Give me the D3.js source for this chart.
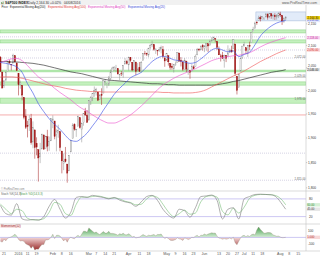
<!DOCTYPE html>
<html lang="en">
<head>
<meta charset="utf-8">
<title>S&amp;P500 Index - Daily</title>
<script src="https://cdn.jsdelivr.net/npm/d3@7/dist/d3.min.js"></script>
<style>
  html, body { margin: 0; padding: 0; background: #ffffff; }
  #chart svg { display: block; font-family: "Liberation Sans", Arial, sans-serif; }
</style>
</head>
<body>
<div id="chart"></div>
<script>
// 1. Data
const dates = [
  '2015-12-17','2015-12-18','2015-12-21','2015-12-22','2015-12-23','2015-12-24','2015-12-28','2015-12-29','2015-12-30','2015-12-31',
  '2016-01-04','2016-01-05','2016-01-06','2016-01-07','2016-01-08','2016-01-11','2016-01-12','2016-01-13','2016-01-14','2016-01-15','2016-01-19','2016-01-20','2016-01-21','2016-01-22','2016-01-25','2016-01-26','2016-01-27','2016-01-28','2016-01-29',
  '2016-02-01','2016-02-02','2016-02-03','2016-02-04','2016-02-05','2016-02-08','2016-02-09','2016-02-10','2016-02-11','2016-02-12','2016-02-16','2016-02-17','2016-02-18','2016-02-19','2016-02-22','2016-02-23','2016-02-24','2016-02-25','2016-02-26','2016-02-29',
  '2016-03-01','2016-03-02','2016-03-03','2016-03-04','2016-03-07','2016-03-08','2016-03-09','2016-03-10','2016-03-11','2016-03-14','2016-03-15','2016-03-16','2016-03-17','2016-03-18','2016-03-21','2016-03-22','2016-03-23','2016-03-24','2016-03-28','2016-03-29','2016-03-30','2016-03-31',
  '2016-04-01','2016-04-04','2016-04-05','2016-04-06','2016-04-07','2016-04-08','2016-04-11','2016-04-12','2016-04-13','2016-04-14','2016-04-15','2016-04-18','2016-04-19','2016-04-20','2016-04-21','2016-04-22','2016-04-25','2016-04-26','2016-04-27','2016-04-28','2016-04-29',
  '2016-05-02','2016-05-03','2016-05-04','2016-05-05','2016-05-06','2016-05-09','2016-05-10','2016-05-11','2016-05-12','2016-05-13','2016-05-16','2016-05-17','2016-05-18','2016-05-19','2016-05-20','2016-05-23','2016-05-24','2016-05-25','2016-05-26','2016-05-27','2016-05-31',
  '2016-06-01','2016-06-02','2016-06-03','2016-06-06','2016-06-07','2016-06-08','2016-06-09','2016-06-10','2016-06-13','2016-06-14','2016-06-15','2016-06-16','2016-06-17','2016-06-20','2016-06-21','2016-06-22','2016-06-23','2016-06-24','2016-06-27','2016-06-28','2016-06-29','2016-06-30',
  '2016-07-01','2016-07-05','2016-07-06','2016-07-07','2016-07-08','2016-07-11','2016-07-12','2016-07-13','2016-07-14','2016-07-15','2016-07-18','2016-07-19','2016-07-20','2016-07-21','2016-07-22','2016-07-25','2016-07-26','2016-07-27','2016-07-28','2016-07-29',
  '2016-08-01','2016-08-02','2016-08-03','2016-08-04'
];

const open = [
  2073.8,2040.8,2010.3,2023.2,2042.2,2063.5,2057.8,2060.5,2077.3,2060.6,
  2038.2,2013.8,2011.7,1985.3,1945.9,1926.1,1927.8,1940.3,1891.7,1916.7,1888.7,1876.2,1861.5,1877.4,1906.3,1878.8,1902.5,1885.2,1894.0,
  1936.9,1935.3,1907.1,1911.7,1913.1,1873.3,1848.5,1857.1,1847.0,1833.4,1871.4,1898.8,1927.6,1916.7,1924.4,1942.4,1917.6,1931.9,1955.0,1947.1,
  1937.1,1976.6,1985.6,1994.0,1996.1,1996.9,1981.4,1991.0,1994.7,2019.3,2015.3,2014.2,2026.9,2041.2,2047.9,2048.6,2048.6,2032.5,2037.9,2035.8,2058.3,2063.8,
  2056.6,2073.2,2062.5,2045.6,2063.0,2045.5,2050.2,2043.7,2065.9,2082.9,2083.1,2078.8,2096.1,2101.5,2102.1,2091.5,2089.4,2089.8,2092.3,2090.9,2071.8,
  2067.2,2077.2,2060.3,2053.0,2047.8,2057.6,2062.6,2083.3,2067.2,2062.5,2046.5,2065.0,2044.4,2044.2,2041.9,2052.2,2052.6,2078.9,2091.4,2090.1,2100.1,
  2093.9,2097.7,2104.1,2100.8,2110.2,2112.7,2115.7,2109.6,2091.8,2076.7,2077.6,2066.4,2078.2,2075.6,2085.2,2089.8,2092.8,2103.8,2031.5,2006.7,2042.7,2073.2,
  2099.3,2095.1,2084.4,2100.4,2107.0,2131.7,2139.5,2153.8,2157.9,2165.1,2162.0,2163.8,2166.1,2172.9,2166.5,2173.7,2169.0,2169.8,2166.1,2168.8,
  2173.2,2169.9,2156.8,2163.5
];
const high = [
  2076.4,2040.8,2022.9,2042.7,2064.7,2067.4,2057.8,2081.6,2077.3,2062.5,
  2038.2,2021.9,2011.7,1985.3,1960.4,1935.7,1947.4,1950.3,1934.5,1916.7,1901.4,1876.2,1889.9,1908.9,1906.3,1904.7,1916.9,1902.9,1940.2,
  1947.2,1935.3,1918.0,1927.4,1913.1,1873.3,1868.3,1881.6,1847.0,1864.8,1895.8,1930.7,1930.5,1918.8,1946.7,1942.4,1932.1,1951.8,1963.0,1958.3,
  1978.4,1986.5,1993.7,2009.1,2006.1,1996.9,1992.7,2005.1,2022.4,2024.6,2015.9,2032.0,2046.2,2052.4,2053.9,2056.6,2048.6,2036.0,2042.7,2055.9,2072.2,2067.9,
  2075.1,2074.0,2062.5,2067.3,2063.0,2060.6,2062.9,2065.1,2083.2,2087.8,2083.2,2094.7,2104.1,2111.1,2103.8,2094.3,2089.4,2096.9,2099.9,2099.1,2073.9,
  2083.4,2077.2,2060.3,2060.2,2057.7,2064.2,2084.9,2083.5,2074.0,2066.8,2071.9,2065.7,2060.6,2044.2,2058.4,2055.6,2079.7,2094.7,2094.3,2099.3,2103.5,
  2101.0,2105.3,2104.1,2113.4,2119.2,2120.6,2117.6,2109.6,2098.1,2081.3,2085.7,2079.6,2078.2,2100.7,2093.7,2099.7,2113.3,2103.8,2031.5,2036.1,2073.1,2098.9,
  2108.7,2095.1,2100.7,2109.1,2131.7,2143.2,2155.4,2156.5,2169.0,2169.1,2168.4,2164.6,2175.6,2174.6,2175.1,2173.7,2173.5,2175.0,2172.9,2177.1,
  2178.3,2170.2,2163.8,2168.2
];
const low = [
  2041.7,2005.3,2005.9,2020.5,2042.2,2058.7,2044.2,2060.5,2061.9,2043.6,
  1989.7,2004.2,1979.1,1938.8,1918.5,1901.1,1914.4,1886.3,1878.9,1857.8,1864.6,1812.3,1848.9,1877.4,1875.9,1878.8,1872.7,1873.7,1894.0,
  1920.3,1897.3,1872.6,1900.5,1872.7,1828.5,1834.9,1850.3,1810.1,1833.4,1871.4,1898.8,1915.1,1902.2,1924.4,1919.4,1891.0,1925.4,1945.8,1931.8,
  1937.1,1969.0,1977.4,1986.8,1989.4,1977.4,1979.8,1969.3,1994.7,2012.1,2005.2,2010.0,2022.2,2041.2,2043.1,2040.6,2034.9,2022.5,2032.0,2028.3,2058.3,2057.5,
  2044.0,2062.6,2042.6,2043.1,2033.8,2041.7,2041.9,2039.7,2065.9,2078.1,2076.3,2073.7,2091.7,2096.3,2088.5,2081.2,2077.5,2085.8,2082.3,2071.6,2052.3,
  2066.1,2054.9,2045.6,2045.8,2039.5,2054.3,2062.6,2064.5,2053.1,2043.1,2046.5,2040.8,2034.5,2025.9,2041.9,2047.3,2052.6,2078.9,2087.1,2090.1,2088.7,
  2085.1,2088.6,2085.4,2100.8,2110.2,2112.7,2107.7,2090.0,2078.5,2064.1,2069.8,2050.4,2062.8,2075.6,2083.0,2084.4,2092.8,2032.6,1991.7,2006.7,2042.7,2070.0,
  2097.9,2080.9,2074.0,2089.4,2107.0,2131.7,2139.5,2148.0,2157.9,2155.8,2159.6,2159.0,2166.1,2159.8,2163.2,2161.9,2160.2,2159.1,2159.7,2163.5,
  2166.2,2147.6,2152.6,2159.1
];
const close = [
  2041.9,2005.6,2021.2,2039.0,2064.3,2061.0,2056.5,2078.4,2063.4,2043.9,
  2012.7,2016.7,1990.3,1943.1,1922.0,1923.7,1938.7,1890.3,1921.8,1880.3,1881.3,1859.3,1869.0,1906.9,1877.1,1903.6,1883.0,1893.4,1940.2,
  1939.4,1903.0,1912.5,1915.5,1880.1,1853.4,1852.2,1851.9,1829.1,1864.8,1895.6,1926.8,1917.8,1917.8,1945.5,1921.3,1929.8,1951.7,1948.1,1932.2,
  1978.4,1986.5,1993.4,2000.0,2001.8,1979.3,1989.3,1989.6,2022.2,2019.6,2015.9,2027.2,2040.6,2049.6,2051.6,2049.8,2036.7,2035.9,2037.1,2055.0,2064.0,2059.7,
  2072.8,2066.1,2045.2,2066.7,2041.9,2047.6,2042.0,2061.7,2082.4,2082.8,2080.7,2094.3,2100.8,2102.4,2091.5,2091.6,2087.8,2091.7,2095.2,2075.8,2065.3,
  2081.4,2063.4,2051.1,2050.6,2057.1,2058.7,2084.4,2064.5,2064.1,2046.6,2066.7,2047.2,2047.6,2040.0,2052.3,2048.0,2076.1,2090.5,2090.1,2099.1,2097.0,
  2099.3,2105.3,2099.1,2109.4,2112.1,2119.1,2115.5,2096.1,2079.1,2075.3,2071.5,2078.0,2071.2,2083.3,2088.9,2085.5,2113.3,2037.4,2000.5,2036.1,2070.8,2098.9,
  2103.0,2088.6,2099.7,2097.9,2129.9,2137.2,2152.1,2152.4,2163.8,2161.7,2166.9,2163.8,2173.0,2165.2,2175.0,2168.5,2169.2,2166.6,2170.1,2173.6,
  2170.8,2157.0,2163.8,2164.3
];

// Momentum(12), one value per bar
const momentum = [
  -61,-74,-28,-53,-13,-3,9,26,51,22,
  -31,-56,-52,-62,-99,-115,-126,-171,-135,-198,
  -182,-185,-144,-110,-113,-40,-39,-30,2,49,
  -19,32,34,21,-16,-55,-25,-75,-18,2,
  -13,-22,15,33,6,50,98,96,80,149,
  122,98,73,84,62,44,68,92,68,68,
  95,62,63,58,50,35,57,48,65,42,
  40,57,39,5,17,-10,-2,5,26,45,
  28,17,35,28,36,46,25,46,44,53,
  14,-17,-1,-17,-43,-50,-45,-33,-7,-23,
  -28,-49,-9,-18,-34,-23,1,-3,19,32,
  6,35,33,53,39,52,62,72,67,68,
  20,-11,-15,-28,-19,-28,-22,-10,-24,1,
  -82,-115,-60,-8,24,32,11,29,15,41,
  52,39,115,163,126,96,65,70,77,75,
  71,39,29,18,21,7,-5,-3,1
];

// moving averages and stochastic, read every third bar
const sampleDays = [0,3,6,9,12,15,18,21,24,27,30,33,36,39,42,45,48,51,54,57,60,63,66,69,72,75,78,81,84,87,90,93,96,99,102,105,108,111,114,117,120,123,126,129,132,135,138,141,144,147,150,153,156,158];
const ema200 = [2064,2064,2063,2063,2062,2061,2060,2058,2056,2053,2050,2047,2044,2041,2039,2037,2034,2031,2028,2025,2023,2022,2021,2020,2019,2018,2017,2016,2015,2015,2014,2013,2013,2012,2012,2012,2012,2012,2012,2012,2013,2015,2017,2020,2022,2025,2028,2031,2034,2037,2040,2042,2044,2046];
const ema100 = [2030,2030,2030,2029,2027,2024,2021,2018,2015,2012,2010,2008,2005,2003,2001,2000,1999,1998,1998,1997,1997,1997,1997,1997,1997,1997,1997,1997,1997,1997,1996,1996,1995,1995,1995,1995,1996,1998,2002,2008,2014,2020,2026,2032,2037,2043,2050,2057,2064,2070,2076,2082,2087,2090];
const ema50 = [2062,2066,2070,2071,2066,2055,2042,2030,2022,2015,2005,1996,1988,1980,1970,1962,1956,1948,1941,1935,1931,1931,1935,1941,1948,1957,1967,1978,1990,2002,2012,2020,2027,2033,2038,2043,2048,2054,2060,2066,2070,2073,2075,2077,2078,2081,2084,2090,2097,2103,2108,2112,2116,2118];
const ema20 = [2062,2060,2057,2052,2040,2015,1995,1972,1955,1940,1928,1918,1905,1895,1893,1900,1910,1925,1940,1958,1975,1992,2005,2016,2028,2034,2040,2052,2064,2072,2076,2073,2068,2066,2063,2060,2062,2070,2080,2090,2094,2090,2086,2088,2075,2080,2085,2102,2122,2135,2145,2152,2156,2158];
const stochK = [58,30,25,64,12,8,10,8,20,55,78,45,15,35,85,88,85,92,88,85,80,85,76,70,66,55,70,88,92,75,45,25,15,45,40,18,50,88,90,93,75,12,45,50,12,80,88,95,96,95,94,85,62,45];
const stochD = [62,45,30,45,40,14,9,9,13,35,68,62,30,24,62,86,86,88,90,86,82,83,80,72,68,60,62,80,90,85,62,36,20,30,42,28,32,70,88,91,86,38,26,48,32,52,82,92,95,95,94,90,76,60];

// drawn levels
const supportZones = [[2129, 2136], [2106, 2113], [2041, 2045], [2012, 2019], [1973, 1984]];
const dottedLevels = [2120, 2090, 2072, 1869, 1815];
const solidLevels = [2029];
const redLevels = [1948];
const labelledLevels = [2072, 2029, 1978, 1815];
const rangeBoxStart = '2016-07-13';
const rangeBoxValues = [2157, 2178];

// tick labels
const priceTicks = [1800, 1850, 1900, 1950, 2000, 2050, 2100, 2150];
const stochTicks = [80, 20];
const momTicks = [100, -100];
const xTickDates = ['2015-12-21','2016-01-04','2016-01-11','2016-01-19','2016-02-01','2016-02-08','2016-02-16','2016-03-01','2016-03-07','2016-03-14','2016-03-21','2016-04-01','2016-04-11','2016-04-18','2016-05-02','2016-05-09','2016-05-16','2016-05-23','2016-06-01','2016-06-13','2016-06-20','2016-06-27','2016-07-01','2016-07-11','2016-07-18','2016-08-01','2016-08-08','2016-08-15'];
const xTickLabels = ['21','2016','11','19','Feb','8','16','Mar','7','14','21','Apr','11','18','May','9','16','23','Jun','13','20','27','Jul','11','18','Aug','8','15'];

// 2. Layout
const width = 320, height = 256;
const plotRight = 306;
const mainTop = 10, mainBottom = 191, stochBottom = 224, momBottom = 251;
const fmt = d3.format(',.2f');

const svg = d3.select('#chart').append('svg')
  .attr('width', width).attr('height', height)
  .attr('viewBox', `0 0 ${width} ${height}`);

svg.append('rect').attr('width', width).attr('height', height).attr('fill', '#ffffff');

// 3. Scales (bar index on x, log price on the main panel)
const x = d3.scaleLinear().domain([-0.25, 169.25]).range([0, plotRight]);
const y = d3.scaleLog().domain([1793.9, 2182.6]).range([mainBottom, mainTop]);
const yStoch = d3.scaleLinear().domain([0, 100]).range([222.5, 193]);
const yMom = d3.scaleLinear().domain([-215, 200]).range([251.1, 224.66]);

// bar index of a date, counting weekdays past the last bar for future dates
function dayIndex(s) {
  const i = dates.indexOf(s);
  if (i >= 0) return i;
  const last = new Date(dates[dates.length - 1] + 'T00:00:00Z');
  const target = new Date(s + 'T00:00:00Z');
  const extra = d3.utcDay.range(d3.utcDay.offset(last, 1), d3.utcDay.offset(target, 1))
    .filter(d => d.getUTCDay() !== 0 && d.getUTCDay() !== 6);
  return dates.length - 1 + extra.length;
}

const defs = svg.append('defs');
function addClip(id, y0, y1) {
  defs.append('clipPath').attr('id', id)
    .append('rect').attr('x', 0).attr('y', y0).attr('width', plotRight).attr('height', y1 - y0);
}
addClip('clip-main', 8.5, mainBottom);
addClip('clip-stoch', mainBottom, stochBottom);
addClip('clip-mom-pos', mainBottom, yMom(0));
addClip('clip-mom-neg', yMom(0), momBottom);

// 4. Header
svg.append('rect').attr('x', 0).attr('y', 0).attr('width', width).attr('height', 5)
  .attr('fill', '#f1f1f1');
[['#3c9a3c', 2.2], ['#c03030', 1.4], ['#3c9a3c', 2.8]].forEach((b, k) => {
  svg.append('rect').attr('x', 1 + k * 0.9).attr('y', 4.2 - b[1]).attr('width', 0.6).attr('height', b[1]).attr('fill', b[0]);
});
const last = close.length - 1;
svg.append('text').attr('x', 5).attr('y', 3.7).attr('font-size', 3.3).attr('font-weight', 'bold')
  .attr('fill', '#222').text('S&P500 INDEX');
svg.append('text').attr('x', 28).attr('y', 3.7).attr('font-size', 3.3).attr('fill', '#333')
  .text(`Daily  ${fmt(close[last])}  ${d3.format('+.2%')((close[last] - close[last - 1]) / close[last - 1])}`);
svg.append('text').attr('x', 64).attr('y', 3.7).attr('font-size', 3.3).attr('fill', '#333').text('04/08/2016');
svg.append('text').attr('x', 317).attr('y', 4).attr('font-size', 3.4).attr('text-anchor', 'end')
  .attr('fill', '#555').text('www.ProRealTime.com');

// legend row, each part squeezed into its own slot
const legend = [
  ['Price · Exponential Moving Avg(200)', '#222222', 1.5, 44],
  ['Exponential Moving Avg(100)', '#e03a3a', 48, 38],
  ['Exponential Moving Avg(50)', '#e040c0', 88, 37.5],
  ['Exponential Moving Avg(20)', '#3a4ad8', 128, 37]
];
legend.forEach(l => {
  svg.append('text').attr('x', l[2]).attr('y', 7.9).attr('font-size', 3.0).attr('fill', l[1])
    .attr('textLength', l[3]).attr('lengthAdjust', 'spacingAndGlyphs').text(l[0]);
});

// 5. Main panel: zones, levels, box
const main = svg.append('g').attr('clip-path', 'url(#clip-main)');

main.selectAll('rect.zone').data(supportZones).join('rect')
  .attr('class', 'zone')
  .attr('x', 0).attr('width', plotRight)
  .attr('y', d => y(d[1])).attr('height', d => y(d[0]) - y(d[1]))
  .attr('fill', '#c4f0be').attr('stroke', '#80d07a').attr('stroke-width', 0.5);

main.selectAll('line.dotted').data(dottedLevels).join('line')
  .attr('class', 'dotted')
  .attr('x1', 0).attr('x2', plotRight).attr('y1', d => y(d)).attr('y2', d => y(d))
  .attr('stroke', '#aaa6c8').attr('stroke-width', 0.5).attr('stroke-dasharray', '1,1');

main.selectAll('line.solid').data(solidLevels).join('line')
  .attr('class', 'solid')
  .attr('x1', 0).attr('x2', plotRight).attr('y1', d => y(d)).attr('y2', d => y(d))
  .attr('stroke', '#9a9a9a').attr('stroke-width', 0.5);

main.selectAll('line.red').data(redLevels).join('line')
  .attr('class', 'red')
  .attr('x1', 0).attr('x2', plotRight).attr('y1', d => y(d)).attr('y2', d => y(d))
  .attr('stroke', '#f08a8a').attr('stroke-width', 0.7);

main.append('rect')
  .attr('x', x(dayIndex(rangeBoxStart) - 0.5)).attr('width', plotRight - x(dayIndex(rangeBoxStart) - 0.5))
  .attr('y', y(rangeBoxValues[1])).attr('height', y(rangeBoxValues[0]) - y(rangeBoxValues[1]))
  .attr('fill', '#e2ebf9').attr('stroke', '#9fb4d6').attr('stroke-width', 0.5);

// 6. Candles
const bars = d3.range(dates.length);
const isUp = i => close[i] >= open[i];
const bw = 1.2;

main.append('g').selectAll('line').data(bars).join('line')
  .attr('x1', i => x(i)).attr('x2', i => x(i))
  .attr('y1', i => y(high[i])).attr('y2', i => y(low[i]))
  .attr('stroke', i => isUp(i) ? '#8a8a8a' : '#a01818').attr('stroke-width', 0.5);

main.append('g').selectAll('rect').data(bars).join('rect')
  .attr('x', i => x(i) - bw / 2).attr('width', bw)
  .attr('y', i => y(Math.max(open[i], close[i])))
  .attr('height', i => Math.max(0.4, Math.abs(y(open[i]) - y(close[i]))))
  .attr('fill', i => isUp(i) ? '#f4f4f4' : '#a01818')
  .attr('stroke', i => isUp(i) ? '#8a8a8a' : '#a01818').attr('stroke-width', 0.35);

// 7. Moving averages
const maLine = d3.line().x((d, k) => x(sampleDays[k])).y(d => y(d)).curve(d3.curveMonotoneX);
[[ema200, '#2a2a2a'], [ema100, '#f06060'], [ema50, '#ec5cd0'], [ema20, '#4458e6']].forEach(m => {
  main.append('path').datum(m[0]).attr('d', maLine)
    .attr('fill', 'none').attr('stroke', m[1]).attr('stroke-width', 0.65);
});

// level labels at the right end of the plot
svg.selectAll('text.lvl').data(labelledLevels).join('text')
  .attr('class', 'lvl')
  .attr('x', plotRight - 0.5).attr('y', d => y(d) - 0.4)
  .attr('text-anchor', 'end').attr('font-size', 2.8).attr('fill', '#666')
  .text(d => fmt(d));

// 8. Stochastic panel
const stoch = svg.append('g').attr('clip-path', 'url(#clip-stoch)');
stoch.selectAll('line').data(stochTicks).join('line')
  .attr('x1', 0).attr('x2', plotRight).attr('y1', d => yStoch(d)).attr('y2', d => yStoch(d))
  .attr('stroke', '#b8b0ee').attr('stroke-width', 0.7);
const stLine = d3.line().x((d, k) => x(sampleDays[k])).y(d => yStoch(d)).curve(d3.curveMonotoneX);
stoch.append('path').datum(stochD).attr('d', stLine)
  .attr('fill', 'none').attr('stroke', '#78c078').attr('stroke-width', 0.6);
stoch.append('path').datum(stochK).attr('d', stLine)
  .attr('fill', 'none').attr('stroke', '#7a7a7a').attr('stroke-width', 0.6);
svg.append('text').attr('x', 1).attr('y', 189.6).attr('font-size', 2.6).attr('fill', '#888').text('© ProRealTime.com');
svg.append('text').attr('x', 1).attr('y', 194.6).attr('font-size', 2.9).attr('fill', '#666').text('Stoch %K(14,3)');
svg.append('text').attr('x', 20).attr('y', 194.6).attr('font-size', 2.9).attr('fill', '#4c9a4c').text('Stoch %D(14,3,3)');

// 9. Momentum panel
const momArea = d3.area().x((d, i) => x(i)).y0(yMom(0)).y1(d => yMom(d));
const gPos = defs.append('linearGradient').attr('id', 'mom-pos')
  .attr('gradientUnits', 'userSpaceOnUse').attr('x1', 0).attr('x2', 0)
  .attr('y1', yMom(170)).attr('y2', yMom(0));
gPos.append('stop').attr('offset', '0%').attr('stop-color', '#3f9a48');
gPos.append('stop').attr('offset', '100%').attr('stop-color', '#d6efd6');
const gNeg = defs.append('linearGradient').attr('id', 'mom-neg')
  .attr('gradientUnits', 'userSpaceOnUse').attr('x1', 0).attr('x2', 0)
  .attr('y1', yMom(0)).attr('y2', yMom(-200));
gNeg.append('stop').attr('offset', '0%').attr('stop-color', '#f3d6d6');
gNeg.append('stop').attr('offset', '100%').attr('stop-color', '#9a2a2a');

svg.append('path').datum(momentum).attr('d', momArea)
  .attr('clip-path', 'url(#clip-mom-pos)').attr('fill', 'url(#mom-pos)');
svg.append('path').datum(momentum).attr('d', momArea)
  .attr('clip-path', 'url(#clip-mom-neg)').attr('fill', 'url(#mom-neg)');
svg.append('line').attr('x1', 0).attr('x2', plotRight).attr('y1', yMom(0)).attr('y2', yMom(0))
  .attr('stroke', '#b8b0ee').attr('stroke-width', 0.7);
svg.append('path').datum(momentum)
  .attr('d', d3.line().x((d, i) => x(i)).y(d => yMom(d)))
  .attr('fill', 'none').attr('stroke', '#8a7a6a').attr('stroke-width', 0.3);
svg.append('rect').attr('x', 0.5).attr('y', 224.7).attr('width', 20).attr('height', 3.2).attr('fill', '#f6dcdc');
svg.append('text').attr('x', 1).attr('y', 227.3).attr('font-size', 2.9).attr('fill', '#a33333').text('Momentum(12)');

// 10. Frames
[mainBottom, stochBottom, momBottom].forEach(v => {
  svg.append('line').attr('x1', 0).attr('x2', width).attr('y1', v).attr('y2', v)
    .attr('stroke', '#c4c4c4').attr('stroke-width', 0.6);
});
svg.append('line').attr('x1', plotRight).attr('x2', plotRight).attr('y1', 5).attr('y2', momBottom)
  .attr('stroke', '#c4c4c4').attr('stroke-width', 0.6);

// 11. Value boxes on the axis (current values)
const boxes = [
  [fmt(ema200[ema200.length - 1]), y(ema200[ema200.length - 1]), '#e4e4e4', '#222'],
  [fmt(ema100[ema100.length - 1]), y(ema100[ema100.length - 1]), '#fbd6d6', '#d03030'],
  [fmt(ema50[ema50.length - 1]), y(ema50[ema50.length - 1]), '#fbd6f2', '#c0309a'],
  [fmt(ema20[ema20.length - 1]), y(ema20[ema20.length - 1]), '#e4e7fd', '#3040c8'],
  [fmt(close[last]), y(close[last]), '#f5d000', '#222'],
  [d3.format('.2f')(stochD[stochD.length - 1]), yStoch(stochD[stochD.length - 1]), '#d6f0d6', '#3a8a3a'],
  [d3.format('.2f')(stochK[stochK.length - 1]), yStoch(stochK[stochK.length - 1]), '#e6e6e6', '#444'],
  [d3.format('.3f')(momentum[last]), yMom(momentum[last]), '#f8d8d8', '#b03030']
];
const boxG = svg.append('g');
boxes.forEach(b => {
  boxG.append('rect').attr('x', plotRight + 0.5).attr('y', b[1] - 1.7).attr('width', 13.5).attr('height', 3.4)
    .attr('fill', b[2]);
  boxG.append('text').attr('x', plotRight + 1.2).attr('y', b[1] + 1).attr('font-size', 2.9)
    .attr('fill', b[3]).text(b[0]);
});

// 12. Right axis ticks, nudged away from value boxes
const boxYs = boxes.map(b => b[1]);
function tickY(yy) {
  const hit = boxYs.find(by => Math.abs(by - yy) < 3.6);
  if (hit === undefined) return yy;
  return hit > yy ? hit - 3.6 : hit + 3.6;
}
const axisG = svg.append('g').attr('font-size', 3.2).attr('fill', '#333');
axisG.selectAll('text.p').data(priceTicks).join('text')
  .attr('class', 'p').attr('x', 308).attr('y', d => tickY(y(d)) + 1.1).text(d3.format(','));
axisG.selectAll('line.p').data(priceTicks).join('line')
  .attr('class', 'p').attr('x1', plotRight).attr('x2', plotRight + 1.2)
  .attr('y1', d => y(d)).attr('y2', d => y(d)).attr('stroke', '#888').attr('stroke-width', 0.4);
axisG.selectAll('text.s').data(stochTicks).join('text')
  .attr('class', 's').attr('x', 309).attr('y', d => tickY(yStoch(d)) + 1.1).text(d => d);
axisG.selectAll('text.m').data(momTicks).join('text')
  .attr('class', 'm').attr('x', 308).attr('y', d => tickY(yMom(d)) + 1.1).text(d => d);

// 13. Date axis
svg.append('g').selectAll('text').data(xTickDates).join('text')
  .attr('x', d => x(dayIndex(d))).attr('y', 254.6)
  .attr('text-anchor', 'middle').attr('font-size', 3.6).attr('fill', '#555')
  .text((d, k) => xTickLabels[k]);
</script>
</body>
</html>
